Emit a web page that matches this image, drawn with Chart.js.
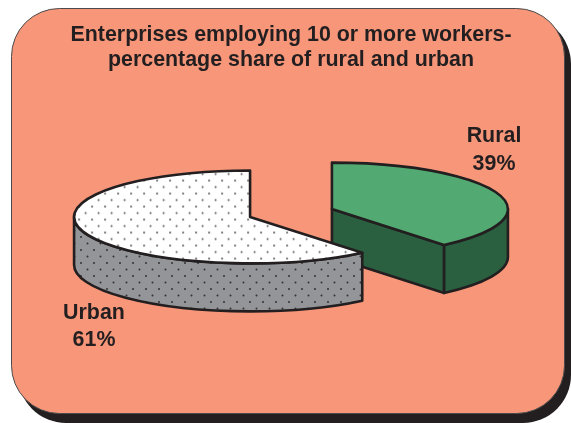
<!DOCTYPE html>
<html>
<head>
<meta charset="utf-8">
<style>
  html, body { margin: 0; padding: 0; background: #fff; }
  #wrap { position: relative; width: 571px; height: 423px; }
  canvas { display: block; }
</style>
<script src="https://cdn.jsdelivr.net/npm/chart.js@4"></script>
</head>
<body>
<div id="wrap"><canvas id="graph" width="571" height="423"></canvas></div>
<script>
const categories = ['Rural', 'Urban'];
const shares = [39, 61];
const titleLines = ['Enterprises employing 10 or more workers-', 'percentage share of rural and urban'];

const INK = '#231f20';
const SQUASH = 0.264;   // tilt of the pie
const DEPTH = 48;       // height of the side walls
const EXPLODE = 43.5;   // how far each slice moves from the centre
const CX = 291, CY = 213;

// Dotted fill, tile is drawn once and repeated
function dotted(base, dot, inverseSquash) {
  const tile = document.createElement('canvas');
  tile.width = 26;
  tile.height = 13;
  const c = tile.getContext('2d');
  c.fillStyle = base;
  c.fillRect(0, 0, 26, 13);
  c.fillStyle = dot;
  [[3, 3], [16, 3], [9.5, 9.5], [22.5, 9.5]].forEach(function (p) {
    c.beginPath();
    c.arc(p[0], p[1], 1, 0, Math.PI * 2);
    c.fill();
  });
  const pattern = c.createPattern(tile, 'repeat');
  if (inverseSquash) {
    pattern.setTransform(new DOMMatrix().scale(1, 1 / SQUASH));
  }
  return pattern;
}

const topColors = ['#52aa72', dotted('#ffffff', '#58595b', true)];
const wallColors = ['#2a5f40', dotted('#939598', '#333335', false)];

// Rounded salmon panel with its hard shadow
const panel = {
  id: 'panel',
  beforeDraw(chart) {
    const ctx = chart.ctx;
    ctx.save();
    ctx.fillStyle = INK;
    ctx.beginPath();
    ctx.roundRect(18, 16, 553, 407, 48);
    ctx.fill();
    ctx.fillStyle = '#f79679';
    ctx.strokeStyle = '#4a4a4a';
    ctx.lineWidth = 1;
    ctx.beginPath();
    ctx.roundRect(11.5, 8.5, 553, 405, 48);
    ctx.fill();
    ctx.stroke();
    ctx.restore();
  }
};

// Pie is drawn by hand, slice by slice, so later slices cover earlier walls
const pie3d = {
  id: 'pie3d',
  beforeDatasetDraw(chart, args) {
    const ctx = chart.ctx;
    const arcs = args.meta.data;

    arcs.forEach(function (arc, i) {
      const r = arc.outerRadius;
      const mid = (arc.startAngle + arc.endAngle) / 2;
      const x = CX + Math.cos(mid) * EXPLODE;
      const y = CY + Math.sin(mid) * EXPLODE * SQUASH;

      // only the part of the rim facing the viewer has a wall
      const from = Math.max(arc.startAngle, 0);
      const to = Math.min(arc.endAngle, Math.PI);

      function rim(path, angleA, angleB, drop) {
        path.ellipse(x, y + drop, r, r * SQUASH, 0, angleA, angleB, angleA > angleB);
      }

      ctx.save();
      ctx.lineWidth = 2.6;
      ctx.lineJoin = 'round';
      ctx.strokeStyle = INK;

      // cut face of the first slice looks towards the viewer
      if (i === 0) {
        const ex = x + Math.cos(to) * r;
        const ey = y + Math.sin(to) * r * SQUASH;
        ctx.beginPath();
        ctx.moveTo(x, y);
        ctx.lineTo(ex, ey);
        ctx.lineTo(ex, ey + DEPTH);
        ctx.lineTo(x, y + DEPTH);
        ctx.closePath();
        ctx.fillStyle = wallColors[i];
        ctx.fill();
        ctx.stroke();
      }

      // side wall
      ctx.beginPath();
      rim(ctx, from, to, 0);
      rim(ctx, to, from, DEPTH);
      ctx.closePath();
      ctx.fillStyle = wallColors[i];
      ctx.fill();
      ctx.stroke();

      // top face goes through the library's own arc element
      ctx.save();
      ctx.translate(x, y);
      ctx.scale(1, SQUASH);
      ctx.translate(-arc.x, -arc.y);
      arc.draw(ctx);
      ctx.restore();

      // outline is stroked without the squash so it keeps an even width
      ctx.beginPath();
      ctx.moveTo(x, y);
      rim(ctx, arc.startAngle, arc.endAngle, 0);
      ctx.closePath();
      ctx.stroke();
      ctx.restore();
    });
    return false;
  }
};

// Name and share next to each slice
const sliceLabels = {
  id: 'sliceLabels',
  afterDraw(chart) {
    const ctx = chart.ctx;
    const spots = [[494, 136, 164], [94, 313, 340]];
    ctx.save();
    ctx.fillStyle = INK;
    ctx.font = 'bold 21.4px "Liberation Sans"';
    ctx.textAlign = 'center';
    ctx.textBaseline = 'middle';
    categories.forEach(function (name, i) {
      ctx.fillText(name, spots[i][0], spots[i][1]);
      ctx.fillText(shares[i] + '%', spots[i][0], spots[i][2]);
    });
    ctx.restore();
  }
};

const graph = new Chart(document.getElementById('graph'), {
  type: 'pie',
  data: {
    labels: categories,
    datasets: [{
      data: shares,
      backgroundColor: topColors,
      borderWidth: 0
    }]
  },
  options: {
    responsive: false,
    animation: false,
    radius: 176,
    layout: { padding: { left: 11 } },
    plugins: {
      legend: { display: false },
      tooltip: { enabled: false },
      title: {
        display: true,
        fullSize: false,
        text: titleLines,
        color: INK,
        font: { family: '"Liberation Sans"', size: 21.4, weight: 'bold', lineHeight: 1.15 },
        padding: { top: 23, bottom: 0 }
      }
    }
  },
  plugins: [panel, pie3d, sliceLabels]
});
</script>
</body>
</html>
